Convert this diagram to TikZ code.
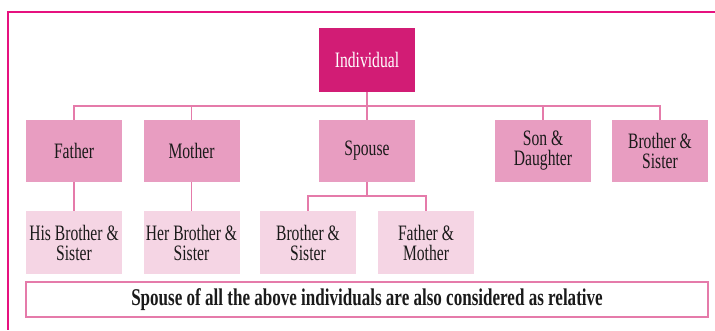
\documentclass[tikz,border=0pt]{standalone}
\usepackage{fontspec}
\setmainfont{Liberation Serif}[FakeStretch=0.71]
\usepackage{tikz}
\usetikzlibrary{positioning}
\definecolor{framepink}{HTML}{E6117F}
\definecolor{rootmagenta}{HTML}{D21C75}
\definecolor{kinpink}{HTML}{E89DC1}
\definecolor{kinwash}{HTML}{F5D5E4}
\definecolor{linkpink}{HTML}{E57BAA}
\definecolor{inkgray}{HTML}{1A1A1A}

\begin{document}
\begin{tikzpicture}[
  x=1pt, y=-1pt,
  every node/.style={font=\fontsize{22}{20}\selectfont, align=center, text=inkgray, inner sep=0pt},
  root/.style={fill=rootmagenta, text=white, minimum width=96pt, minimum height=64pt},
  kin/.style={fill=kinpink, minimum width=96pt, minimum height=62pt},
  kinkin/.style={fill=kinwash, minimum width=96pt, minimum height=63pt},
  link/.style={draw=linkpink, line width=1.2pt}
]
\useasboundingbox (0,0) rectangle (715,330);
% outer frame, cut at the right and bottom
\draw[framepink, line width=2pt] (715,12) -- (8,12) -- (8,330);

\node[root] (individual) at (367,60) {Individual};

\node[kin] (father) at (74,151) {Father};
\node[kin] (mother) at (191.5,151) {Mother};
\node[kin] (spouse) at (367,151) {Spouse};
\node[kin] (sondau) at (543,151) {Son \&\\Daughter};
\node[kin] (brosis) at (660,151) {Brother \&\\Sister};

\node[kinkin] (hisbro) at (74,242.5) {His Brother \&\\Sister};
\node[kinkin] (herbro) at (191.5,242.5) {Her Brother \&\\Sister};
\node[kinkin] (spbro) at (308,242.5) {Brother \&\\Sister};
\node[kinkin] (spparent) at (426,242.5) {Father \&\\Mother};

\node[draw=linkpink, line width=1.2pt, fill=white, minimum width=682pt, minimum height=35pt,
  font=\fontsize{24}{24}\selectfont\bfseries] (note) at (367,299.5)
  {Spouse of all the above individuals are also considered as relative};

\coordinate (bus) at (367,106);
\coordinate (fork) at (367,196);

\draw[link] (individual) -- (spouse);
\draw[link] (father.north) |- (bus) -| (brosis.north);
\draw[link] (mother.north) -- (mother.north |- bus);
\draw[link] (sondau.north) -- (sondau.north |- bus);
\draw[link] (father) -- (hisbro);
\draw[link] (mother) -- (herbro);
\draw[link] (spouse) -- (fork);
\draw[link] (spbro.north) |- (fork) -| (spparent.north);
\end{tikzpicture}
\end{document}
